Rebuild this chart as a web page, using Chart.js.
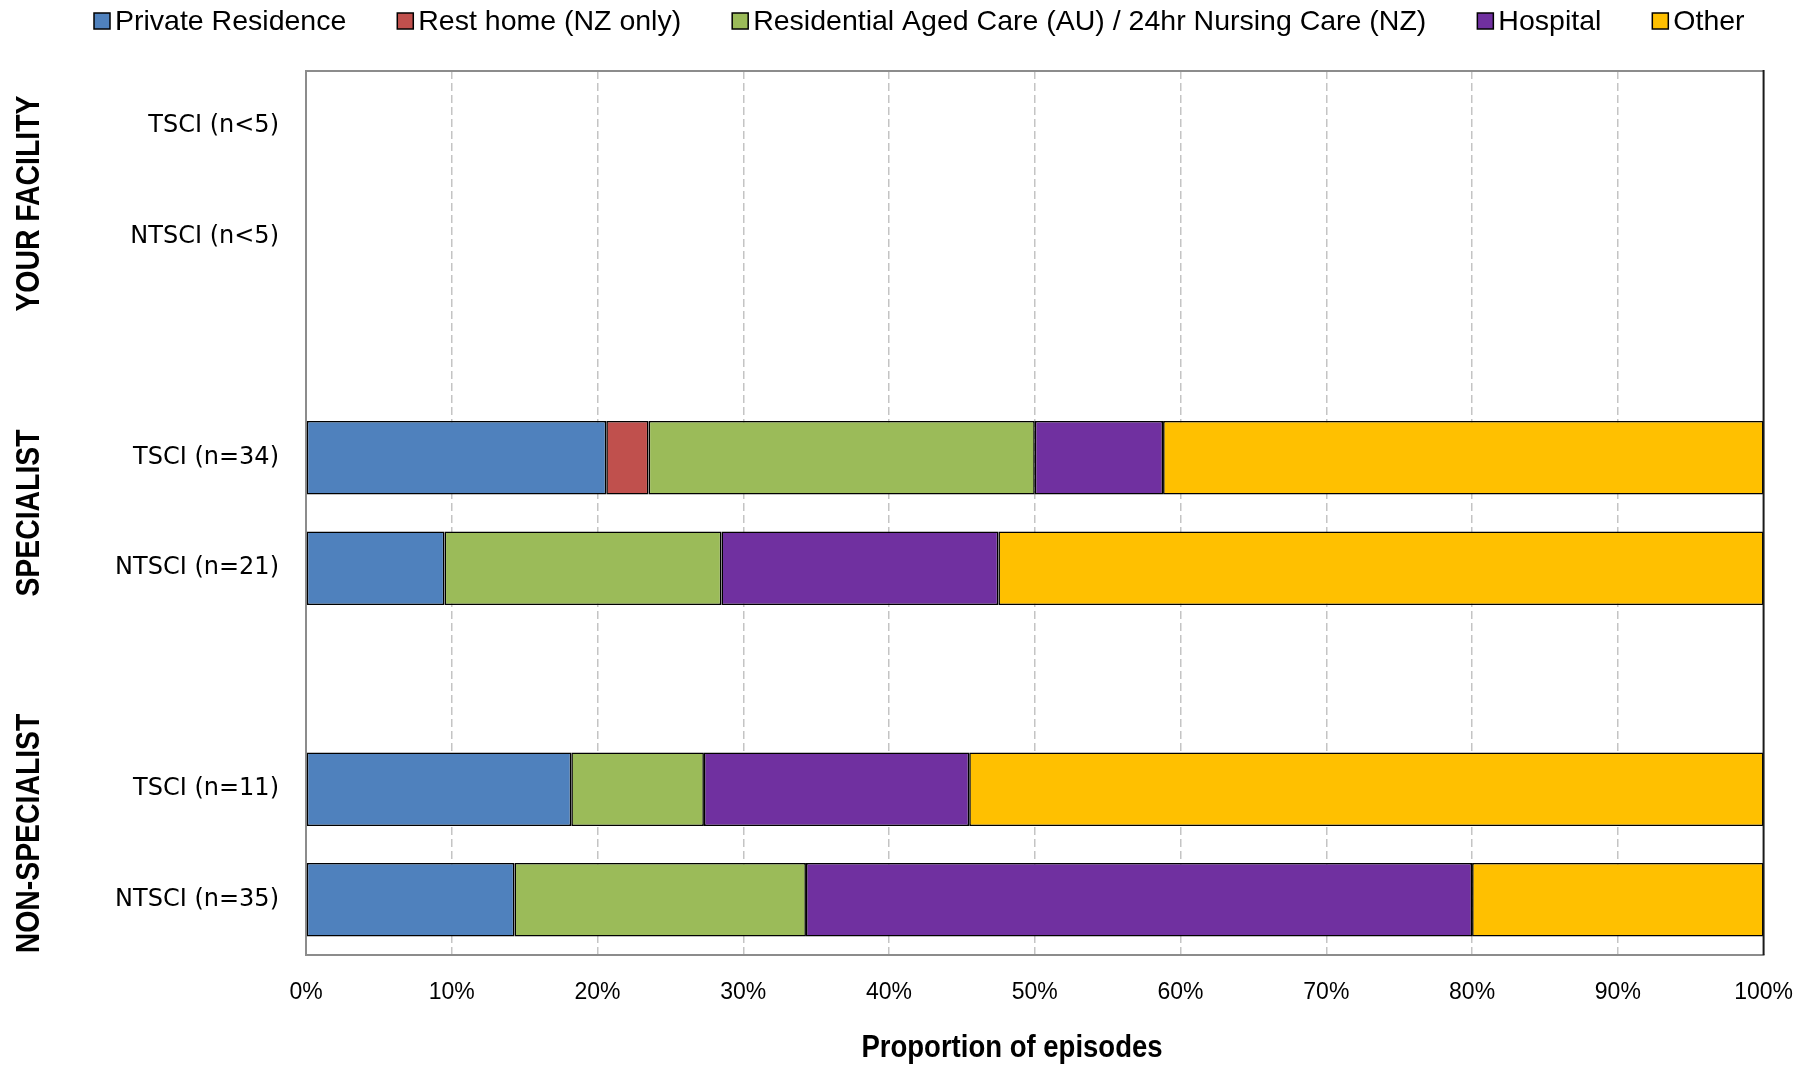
<!DOCTYPE html>
<html>
<head>
<meta charset="utf-8">
<script src="https://cdn.jsdelivr.net/npm/chart.js@4.4.1/dist/chart.umd.min.js"></script>
<style>
  html, body { margin: 0; padding: 0; background: #fff; }
</style>
</head>
<body>
<canvas id="chart" width="1806" height="1066"></canvas>
<script>
// rows (blank entries are the gaps between groups)
const categories = ['TSCI (n<5)', 'NTSCI (n<5)', '', 'TSCI (n=34)', 'NTSCI (n=21)', '', 'TSCI (n=11)', 'NTSCI (n=35)'];
const groups = ['YOUR FACILITY', 'SPECIALIST', 'NON-SPECIALIST'];

const seriesNames = ['Private Residence', 'Rest home (NZ only)', 'Residential Aged Care (AU) / 24hr Nursing Care (NZ)', 'Hospital', 'Other'];
const seriesColors = ['#4F81BD', '#C0504D', '#9BBB59', '#7030A0', '#FFC000'];

// % of episodes per row
const privateResidence = [null, null, null, 20.6, 9.5, null, 18.2, 14.3];
const restHome         = [null, null, null, 2.9, null, null, null, null];
const residentialCare  = [null, null, null, 26.5, 19.0, null, 9.1, 20.0];
const hospital         = [null, null, null, 8.8, 19.0, null, 18.2, 45.7];
const other            = [null, null, null, 41.2, 52.5, null, 54.5, 20.0];

const seriesValues = [privateResidence, restHome, residentialCare, hospital, other];

const xMin = 0, xMax = 100, xStep = 10;
const xTitle = 'Proportion of episodes';

// no narrow font installed, so squeeze the bold texts by hand
const NARROW = 0.86;

// legend, group labels, axis title and the plot frame
const extras = {
  id: 'extras',
  afterDraw(chart) {
    const ctx = chart.ctx;
    const area = chart.chartArea;
    ctx.save();

    // frame top + right
    ctx.lineWidth = 2;
    ctx.strokeStyle = '#8c8c8c';
    ctx.beginPath();
    ctx.moveTo(area.left, area.top);
    ctx.lineTo(area.right, area.top);
    ctx.stroke();
    ctx.strokeStyle = '#1a1a1a';
    ctx.beginPath();
    ctx.moveTo(area.right, area.top - 1);
    ctx.lineTo(area.right, area.bottom);
    ctx.stroke();

    // legend
    ctx.font = '28.5px "Liberation Sans", Arial, sans-serif';
    ctx.textBaseline = 'middle';
    ctx.textAlign = 'left';
    let x = 94;
    const ly = 21;
    chart.data.datasets.forEach(ds => {
      ctx.fillStyle = ds.backgroundColor;
      ctx.fillRect(x, ly - 8, 16, 16);
      ctx.lineWidth = 1.5;
      ctx.strokeStyle = '#000';
      ctx.strokeRect(x, ly - 8, 16, 16);
      ctx.fillStyle = '#000';
      ctx.fillText(ds.label, x + 21, ly + 1);
      x += 21 + ctx.measureText(ds.label).width + 51;
    });

    // group labels, rotated
    const yScale = chart.scales.y;
    const groupCenters = [0.7, 3.5, 6.4];
    ctx.font = 'bold 33px "Liberation Sans", Arial, sans-serif';
    ctx.textAlign = 'center';
    groups.forEach((g, i) => {
      const cy = yScale.getPixelForValue(groupCenters[i]);
      ctx.save();
      ctx.translate(30, cy);
      ctx.rotate(-Math.PI / 2);
      ctx.scale(NARROW, 1);
      ctx.fillText(g, 0, 0);
      ctx.restore();
    });

    // x axis title
    ctx.save();
    ctx.font = 'bold 32px "Liberation Sans", Arial, sans-serif';
    ctx.translate(1012, 1048);
    ctx.scale(NARROW, 1);
    ctx.fillText(xTitle, 0, 0);
    ctx.restore();

    ctx.restore();
  }
};

new Chart(document.getElementById('chart'), {
  type: 'bar',
  data: {
    labels: categories,
    datasets: seriesNames.map((name, i) => ({
      label: name,
      data: seriesValues[i],
      backgroundColor: seriesColors[i],
      borderColor: '#000',
      borderWidth: 1.6,
      borderSkipped: false,
      barPercentage: 0.667,
      categoryPercentage: 1.0
    }))
  },
  options: {
    indexAxis: 'y',
    responsive: false,
    animation: false,
    devicePixelRatio: 1,
    layout: { padding: { top: 71, right: 30, left: 0, bottom: 0 } },
    plugins: {
      legend: { display: false },
      tooltip: { enabled: false }
    },
    scales: {
      x: {
        stacked: true,
        min: xMin,
        max: xMax,
        afterFit: s => { s.height = 111; },
        ticks: {
          stepSize: xStep,
          callback: v => v + '%',
          color: '#000',
          padding: 13,
          maxRotation: 0,
          font: { family: '"Liberation Sans", Arial, sans-serif', size: 23 }
        },
        grid: {
          drawTicks: true,
          tickLength: 11,
          tickColor: 'rgba(0,0,0,0)',
          lineWidth: 1.5,
          color: c => (c.tick && (c.tick.value === xMin || c.tick.value === xMax)) ? 'rgba(0,0,0,0)' : '#c4c4c4'
        },
        border: { display: true, color: '#8c8c8c', width: 2, dash: [8, 4] }
      },
      y: {
        stacked: true,
        afterFit: s => { s.width = 306; },
        ticks: {
          color: '#000',
          padding: 27,
          font: { family: '"DejaVu Sans", sans-serif', size: 24 }
        },
        grid: { display: false, drawTicks: false },
        border: { display: true, color: '#8c8c8c', width: 2 }
      }
    }
  },
  plugins: [extras]
});
</script>
</body>
</html>
